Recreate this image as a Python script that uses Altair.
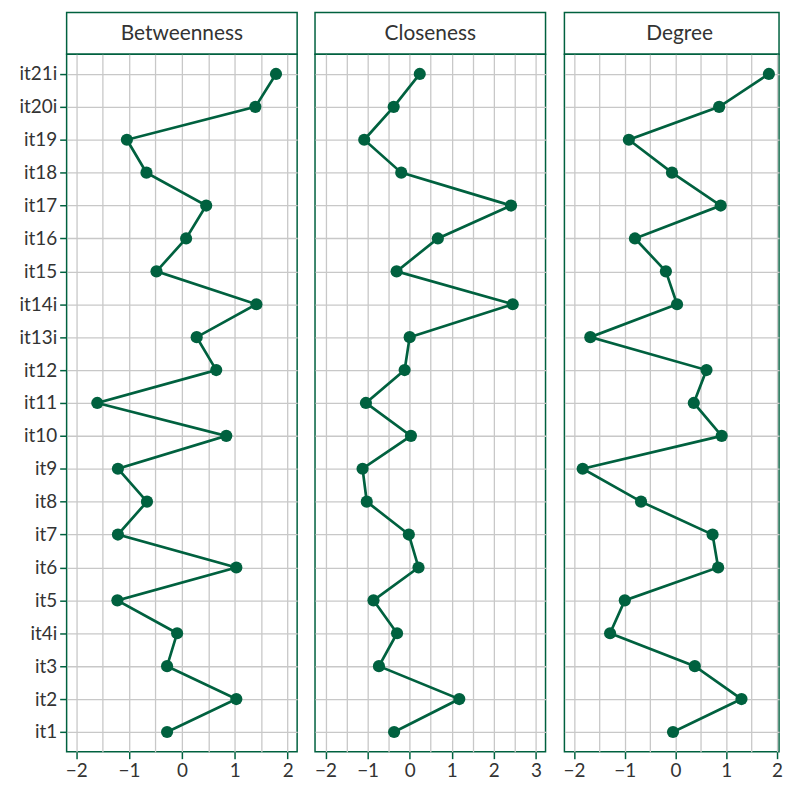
import altair as alt
import pandas as pd

items = ["it1", "it2", "it3", "it4i", "it5", "it6", "it7", "it8", "it9", "it10",
         "it11", "it12", "it13i", "it14i", "it15", "it16", "it17", "it18", "it19",
         "it20i", "it21i"]
betweenness = [-0.28, 1.03, -0.28, -0.09, -1.22, 1.03, -1.21, -0.66, -1.21, 0.84,
               -1.60, 0.65, 0.28, 1.41, -0.48, 0.08, 0.46, -0.67, -1.04, 1.39, 1.78]
closeness = [-0.37, 1.18, -0.73, -0.30, -0.86, 0.21, -0.02, -1.02, -1.12, 0.03,
             -1.04, -0.12, 0.00, 2.45, -0.31, 0.67, 2.41, -0.20, -1.08, -0.38, 0.24]
degree = [-0.05, 1.30, 0.38, -1.29, -1.00, 0.84, 0.73, -0.68, -1.83, 0.91,
          0.36, 0.61, -1.68, 0.03, -0.19, -0.80, 0.89, -0.07, -0.92, 0.86, 1.84]

panels = ["Betweenness", "Closeness", "Degree"]
domains = [[-2.18, 2.18], [-2.25, 3.23], [-2.19, 2.04]]
grid_values = [
    [-2, -1.5, -1, -0.5, 0, 0.5, 1, 1.5, 2],
    [-2, -1.5, -1, -0.5, 0, 0.5, 1, 1.5, 2, 2.5, 3],
    [-2, -1.5, -1, -0.5, 0, 0.5, 1, 1.5, 2],
]
series = [betweenness, closeness, degree]
widths = [232, 232, 216]

GREEN = "#00613F"
FONT = "Lato"
TEXT = "#333333"
PLOT_H = 702


def make_panel(title, vals, domain, gvals, first, width):
    df = pd.DataFrame({"item": items, "value": vals, "order": list(range(len(items)))})
    header = alt.Chart(pd.DataFrame({"t": [title]})).mark_text(
        font=FONT, fontSize=21, color=TEXT, baseline="middle", align="center"
    ).encode(
        text="t:N", x=alt.value(232 / 2), y=alt.value(22)
    ).properties(width=width, height=42)

    xaxis = alt.Axis(
        values=gvals,
        title=None,
        labelExpr="datum.value % 1 == 0 ? format(datum.value, 'd') : ''",
        tickOpacity={"condition": {"test": "datum.value % 1 != 0", "value": 0}, "value": 1},
        labelFlush=False,
        labelOverlap=False,
    )
    if first:
        yaxis = alt.Axis(title=None, grid=True, minExtent=53, maxExtent=53)
    else:
        yaxis = alt.Axis(title=None, grid=True, labels=False, ticks=False, domain=False,
                         minExtent=0, maxExtent=0)
    base = alt.Chart(df).encode(
        x=alt.X("value:Q", scale=alt.Scale(domain=domain, nice=False, zero=False), axis=xaxis),
        y=alt.Y("item:N", sort=list(reversed(items)),
                scale=alt.Scale(type="point", padding=0.6), axis=yaxis),
        order=alt.Order("order:Q"),
    )
    plot = (base.mark_line(color=GREEN, strokeWidth=2.7)
            + base.mark_circle(color=GREEN, size=150, opacity=1)).properties(
        width=width, height=PLOT_H)
    return alt.vconcat(header, plot, spacing=0, bounds="flush")


cols = [make_panel(panels[i], series[i], domains[i], grid_values[i], i == 0, widths[i])
        for i in range(3)]

chart = alt.hconcat(*cols, spacing=15).properties(
    padding={"left": 5, "top": 1, "right": 0, "bottom": 0}
).resolve_scale(x="independent", y="independent").configure_view(
    stroke=GREEN, strokeWidth=1.5
).configure_axis(
    labelFont=FONT, labelFontSize=19, labelColor=TEXT,
    tickColor=GREEN, tickSize=7, tickWidth=1.5,
    gridColor="#c8c8c8", gridWidth=1.3, domain=False, labelPadding=3,
)

chart.save("out.html", embed_options={"renderer": "svg", "actions": False})
